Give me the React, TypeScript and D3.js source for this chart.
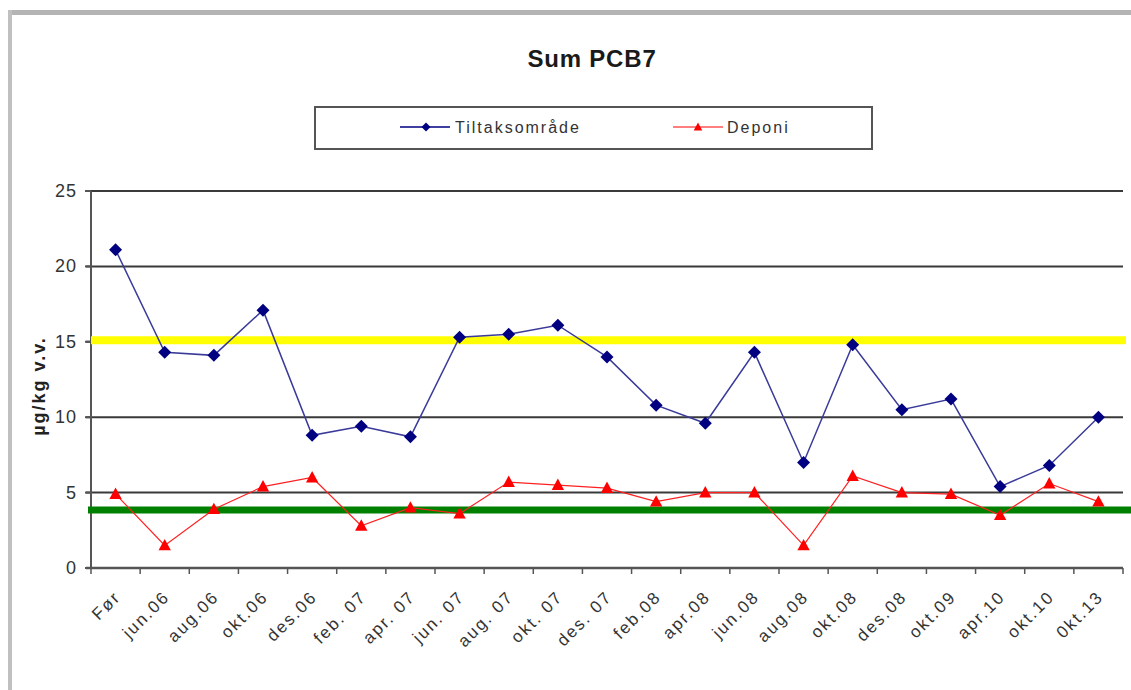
import React from "react";
import * as d3 from "d3";

const categories = ["Før","jun.06","aug.06","okt.06","des.06","feb. 07","apr. 07","jun. 07","aug. 07","okt. 07","des. 07","feb.08","apr.08","jun.08","aug.08","okt.08","des.08","okt.09","apr.10","okt.10","0kt.13"];
const tiltak = [21.1,14.3,14.1,17.1,8.8,9.4,8.7,15.3,15.5,16.1,14.0,10.8,9.6,14.3,7.0,14.8,10.5,11.2,5.4,6.8,10.0];
const deponi = [4.9,1.5,3.9,5.4,6.0,2.8,4.0,3.6,5.7,5.5,5.3,4.4,5.0,5.0,1.5,6.1,5.0,4.9,3.5,5.6,4.4];
const yTicks = [0,5,10,15,20,25];
const yellowLevel = 15.1;
const greenLevel = 3.85;

const W = 1131, H = 690;
const FONT = "'Liberation Sans', Arial, sans-serif";

export default function App() {
  const x = d3.scaleBand<string>().domain(categories).range([91, 1123]);
  const y = d3.scaleLinear().domain([0, 25]).range([568, 191]);
  const cx = (c: string) => (x(c) as number) + x.bandwidth() / 2;
  const line = d3.line<number>().x((_, i) => cx(categories[i])).y(d => y(d));
  const diamond = (px: number, py: number, r = 6.5) => `M${px},${py - r}L${px + r},${py}L${px},${py + r}L${px - r},${py}Z`;
  const tri = (px: number, py: number, r = 6.5) => `M${px},${py - r}L${px + r * 0.95},${py + r * 0.75}L${px - r * 0.95},${py + r * 0.75}Z`;
  const x0 = 91, x1 = 1123;
  const bounds = [...categories.map(c => x(c) as number), x1];

  return (
    <svg width={W} height={H} style={{ position: "absolute", left: 0, top: 0, background: "#fff" }} fontFamily={FONT}>
      <rect x={0} y={0} width={W} height={H} fill="#fff" />
      {/* frame */}
      <rect x={8} y={10} width={W} height={5} fill="#b4b4b4" />
      <rect x={8} y={10} width={4} height={H} fill="#c0c0c0" />
      {/* title */}
      <text x={592} y={67} textAnchor="middle" fontSize={24} fontWeight="bold" letterSpacing={0.8} fill="#1a1a1a">Sum PCB7</text>
      {/* legend */}
      <rect x={315} y={107} width={557} height={42} fill="#fff" stroke="#555" strokeWidth={2} />
      <line x1={400} x2={450} y1={127} y2={127} stroke="#000080" strokeWidth={1.5} />
      <path d={diamond(426, 127, 4.5)} fill="#000080" />
      <text x={455} y={133} fontSize={16} letterSpacing={2} fill="#333">Tiltaksområde</text>
      <line x1={673} x2={723} y1={127} y2={127} stroke="#ff0000" strokeWidth={1.2} />
      <path d={tri(698, 127, 4.5)} fill="#ff0000" />
      <text x={727} y={133} fontSize={16} letterSpacing={2} fill="#333">Deponi</text>
      {/* gridlines */}
      {yTicks.filter(t => t > 0).map(t => (
        <line key={t} x1={x0 - 5} x2={x1} y1={y(t)} y2={y(t)} stroke="#3a3a3a" strokeWidth={2} />
      ))}
      {/* y axis */}
      <line x1={x0} x2={x0} y1={y(25)} y2={y(0)} stroke="#555" strokeWidth={2} />
      {yTicks.map(t => (
        <g key={t}>
          <line x1={x0 - 6} x2={x0} y1={y(t)} y2={y(t)} stroke="#555" strokeWidth={2} />
          <text x={77} y={y(t) + 6} textAnchor="end" fontSize={18} letterSpacing={1} fill="#333">{t}</text>
        </g>
      ))}
      {/* x axis */}
      <line x1={x0 - 5} x2={x1} y1={y(0)} y2={y(0)} stroke="#555" strokeWidth={2.5} />
      {bounds.map((b, i) => (
        <line key={i} x1={b} x2={b} y1={y(0)} y2={y(0) + 6} stroke="#555" strokeWidth={1.5} />
      ))}
      {categories.map(c => (
        <text key={c} transform={`translate(${cx(c) + 6},${598}) rotate(-45)`} textAnchor="end" fontSize={17} letterSpacing={2} fill="#333">{c}</text>
      ))}
      {/* y label */}
      <text transform={`translate(45,386) rotate(-90)`} textAnchor="middle" fontSize={18} fontWeight="bold" letterSpacing={2} fill="#222">µg/kg v.v.</text>
      {/* reference lines */}
      <line x1={x0} x2={x1 + 3} y1={y(yellowLevel)} y2={y(yellowLevel)} stroke="#ffff00" strokeWidth={8} />
      <line x1={x0 - 3} x2={W} y1={y(greenLevel)} y2={y(greenLevel)} stroke="#008000" strokeWidth={7} />
      {/* series */}
      <path d={line(tiltak) || ""} fill="none" stroke="#3a3a9a" strokeWidth={1.5} />
      {tiltak.map((v, i) => <path key={i} d={diamond(cx(categories[i]), y(v))} fill="#000080" />)}
      <path d={line(deponi) || ""} fill="none" stroke="#ff2020" strokeWidth={1.2} />
      {deponi.map((v, i) => <path key={i} d={tri(cx(categories[i]), y(v))} fill="#ff0000" />)}
    </svg>
  );
}
